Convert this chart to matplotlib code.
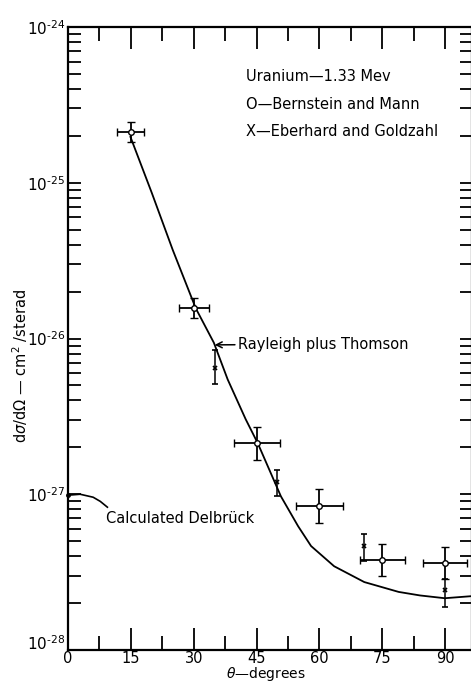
import matplotlib
matplotlib.use("Agg")
import matplotlib.pyplot as plt
from matplotlib.ticker import FixedLocator, NullFormatter, FuncFormatter
import numpy as np

# Bernstein and Mann (circles, with angular and cross-section errors)
bmAngle = [15, 30, 45, 60, 75, 90]
bmSigma = [2.12e-25, 1.56e-26, 2.12e-27, 8.4e-28, 3.78e-28, 3.61e-28]
bmLow = [1.83e-25, 1.35e-26, 1.65e-27, 6.5e-28, 2.99e-28, 2.85e-28]
bmHigh = [2.46e-25, 1.81e-26, 2.72e-27, 1.08e-27, 4.78e-28, 4.57e-28]
bmAngleErr = [3.2, 3.6, 5.5, 5.5, 5.3, 5.3]

# Eberhard and Goldzahl (crosses, cross-section errors only)
egAngle = [35.1, 49.9, 70.7, 90.0]
egSigma = [6.5e-27, 1.19e-27, 4.64e-28, 2.43e-28]
egLow = [5.1e-27, 9.7e-28, 3.72e-28, 1.89e-28]
egHigh = [8.4e-27, 1.43e-27, 5.55e-28, 2.85e-28]

# Rayleigh plus Thomson curve
rtAngle = [14.9, 20.0, 25.0, 30.5, 34.8, 38.1, 42.4, 45.3, 50.8, 54.9, 58.0, 63.5, 70.7, 78.9, 84.0, 89.9, 96.6]
rtSigma = [1.97e-25, 8.6e-26, 3.7e-26, 1.56e-26, 9.4e-27, 5.46e-27, 3.03e-27, 2.12e-27, 9.7e-28,
           6.24e-28, 4.65e-28, 3.45e-28, 2.73e-28, 2.36e-28, 2.24e-28, 2.15e-28, 2.22e-28]

# Calculated Delbrueck (short piece near 0 degrees leading to its label)
dbAngle = [0.0, 2.9, 6.0, 7.7, 9.4]
dbSigma = [9.86e-28, 1.0e-27, 9.57e-28, 9.0e-28, 8.26e-28]

xTicks = [0, 15, 30, 45, 60, 75, 90]
xMinorTicks = [7.5, 22.5, 37.5, 52.5, 67.5, 82.5]
yDecades = [-28, -27, -26, -25, -24]

plt.rcParams['font.family'] = ['DejaVu Sans']
plt.rcParams['mathtext.fontset'] = 'dejavusans'

fig = plt.figure(figsize=(4.71, 6.82), dpi=100)
ax = fig.add_axes([68 / 471, 32 / 682, 404 / 471, 623 / 682])
ax.set_yscale('log')
ax.set_xlim(0, 96.4)
ax.set_ylim(1e-28, 1e-24)

ax.plot(rtAngle, rtSigma, color='k', lw=1.3)
ax.plot(dbAngle, dbSigma, color='k', lw=1.2)
ax.plot(dbAngle[0], dbSigma[0], 'k.', ms=5, clip_on=False)

bmSigma = np.array(bmSigma)
ax.errorbar(bmAngle, bmSigma, xerr=bmAngleErr,
            yerr=(bmSigma - np.array(bmLow), np.array(bmHigh) - bmSigma),
            fmt='o', mfc='white', mec='k', ms=4, mew=1.0, ecolor='k', elinewidth=1.3, capsize=3, capthick=1.3)
egSigma = np.array(egSigma)
ax.errorbar(egAngle, egSigma, yerr=(egSigma - np.array(egLow), np.array(egHigh) - egSigma),
            fmt='x', color='k', ms=3.5, mew=1.2, elinewidth=1.1, capsize=2.5, capthick=1.1)

# ticks
ax.xaxis.set_major_locator(FixedLocator(xTicks))
ax.xaxis.set_minor_locator(FixedLocator(xMinorTicks))
ax.yaxis.set_major_locator(FixedLocator([10.0 ** d for d in yDecades]))
ax.yaxis.set_minor_locator(FixedLocator([m * 10.0 ** d for d in yDecades[:-1] for m in range(2, 10)]))
ax.yaxis.set_minor_formatter(NullFormatter())
ax.yaxis.set_major_formatter(FuncFormatter(lambda v, p: '$10^{\u2010%d}$' % abs(round(np.log10(v)))))
ax.tick_params(axis='x', which='major', direction='in', top=True, length=16, width=1.3, labelsize=10.5, pad=1)
ax.tick_params(axis='x', which='minor', direction='in', top=True, length=10, width=1.3)
ax.tick_params(axis='y', which='both', direction='in', right=True, length=9, width=1.3, labelsize=11, pad=2)
for s in ax.spines.values():
    s.set_linewidth(1.6)

ax.set_xlabel(r'$\theta$—degrees', fontsize=10, va='top')
ax.xaxis.set_label_coords(0.49, -0.024)
ax.set_ylabel(r'd$\sigma$/d$\Omega$ — cm$^2$ /sterad', fontsize=10.5)
ax.yaxis.set_label_coords(-0.095, 0.456)

ax.text(0.44, 0.92, 'Uranium—1.33 Mev', transform=ax.transAxes, fontsize=10.5, va='center')
ax.text(0.44, 0.875, 'O—Bernstein and Mann', transform=ax.transAxes, fontsize=10.5, va='center')
ax.text(0.44, 0.832, 'X—Eberhard and Goldzahl', transform=ax.transAxes, fontsize=10.5, va='center')

ax.annotate('Rayleigh plus Thomson', xy=(35.0, 9.1e-27), xytext=(40.5, 9.2e-27), fontsize=10.5, va='center',
            arrowprops=dict(arrowstyle='->', color='k', lw=1.1, shrinkA=0, shrinkB=0))
ax.text(9.0, 7.0e-28, 'Calculated Delbrück', fontsize=10.5, va='center')

# lift the lowest decade label a little, as on the original, so it clears the "0"
fig.canvas.draw()
ax.get_yticklabels()[0].set_verticalalignment('baseline')

fig.savefig('out.png', dpi=100)
